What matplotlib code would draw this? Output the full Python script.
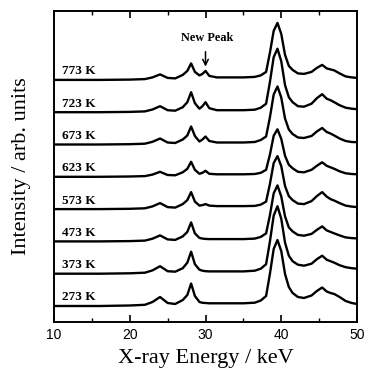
import matplotlib
matplotlib.use("Agg")
import matplotlib.pyplot as plt
from matplotlib.ticker import MultipleLocator

# ---------------- data ----------------
temperatures = ["273 K", "373 K", "473 K", "573 K", "623 K", "673 K", "723 K", "773 K"]

energy_kev = [10, 16, 20, 22, 23, 24, 25, 26, 27, 27.6, 28.1, 28.6, 29.2, 29.6, 30.0,
              30.5, 31.5, 33, 35, 36.5, 37.3, 38.0, 38.5, 39.0, 39.5, 40.0, 40.5, 41.0,
              41.5, 42.2, 43.0, 44.0, 44.7, 45.4, 46.0, 46.5, 47.0, 47.7, 48.5, 49.3, 50]

i_273 = [0, 0, 0.5, 1.2, 4, 9, 3, 2, 6, 11, 22.5, 10, 4, 3.2, 3, 2.7, 2.7, 2.7, 2.7, 3.3,
         5.5, 10, 32, 57, 66, 55, 32, 19, 13, 9, 8, 10.5, 15, 18.5, 14.5, 13, 12, 9, 5, 3, 2]
i_373 = [0, 0, 0.4, 1, 3.3, 7.5, 2.5, 2, 5.5, 11, 22, 9.5, 4, 3, 2.5, 2.3, 2.3, 2.3, 2.3, 3,
         5, 9.5, 32, 58, 67.5, 55, 31, 18, 12.5, 9, 8, 10, 14.5, 18, 14, 12.5, 11, 8.5, 6.5, 5.5, 5]
i_473 = [0, 0, 0.3, 0.8, 2.7, 6, 2, 1.5, 5, 9.5, 19, 8, 3.5, 2.8, 2.5, 2.3, 2.3, 2.3, 2.3, 2.8,
         4.5, 8, 26, 48, 56, 45, 25, 14, 10, 6.5, 5.7, 7.5, 11.5, 15, 11, 9.5, 8, 6, 4, 3.3, 3]
i_573 = [0, 0, 0.3, 0.8, 2.7, 6, 2, 1.5, 5, 9, 17, 7.5, 3.5, 4, 5, 3.5, 3, 3, 3, 3.2,
         4.5, 7.5, 25, 46, 53, 43, 23, 13, 9, 5.5, 5, 8, 13, 17, 12.5, 10, 8.5, 6, 3.5, 2.5, 2]
i_623 = [0, 0, 0.3, 0.7, 2.2, 5, 1.8, 1.5, 4.5, 8, 15, 7, 3, 4, 6, 3, 2.5, 2.5, 2.5, 2.8,
         4, 7, 22, 41, 47.5, 38, 21, 12, 8.5, 5, 4.5, 7, 11, 14.5, 11, 9.5, 8, 5.5, 3.5, 2.8, 2.5]
i_673 = [0, 0, 0.3, 0.8, 2.7, 6, 2, 1.5, 5, 9, 18, 8.5, 3, 5, 8, 3.5, 2, 2, 2, 2.5,
         4.5, 8, 27, 50, 58, 47, 26, 15, 10.5, 7, 6.5, 8.5, 13, 16.5, 12.5, 11, 9, 6, 3.5, 2.5, 2.3]
i_723 = [0, 0, 0.3, 0.8, 2.7, 6, 2, 1.5, 5, 10, 20, 9, 3.5, 6, 10, 4, 2, 2, 2, 2.5,
         4.5, 8.5, 30, 55, 63.5, 51, 27, 15, 10, 6, 5.5, 8.5, 14, 18, 13.5, 12, 10, 7, 4.5, 3.5, 3]
i_773 = [0, 0, 0.3, 0.8, 2.5, 5.5, 2, 1.5, 5, 9, 16.5, 8, 4.5, 6, 9, 4, 2.5, 2.5, 2.5, 3,
         4.5, 8, 27, 49, 57, 46, 25, 14, 10, 6.5, 6, 8, 12, 15, 11.5, 10.5, 9.5, 6.5, 3.5, 2.5, 2]

spectra = [i_273, i_373, i_473, i_573, i_623, i_673, i_723, i_773]

x_ticks = [10, 20, 30, 40, 50]
new_peak_energy = 30.0

# ---------------- layout / style ----------------
BASE = 16.0
STEP = 32.3
W, H, DPI = 368, 372, 100

fig = plt.figure(figsize=(W / DPI, H / DPI), dpi=DPI)
ax = fig.add_axes([54 / W, 1 - 322 / H, (357 - 54) / W, (322 - 11) / H])

serif = ["Liberation Serif", "DejaVu Serif"]

for k, (lab, ys) in enumerate(zip(temperatures, spectra)):
    off = BASE + k * STEP
    ax.plot(energy_kev, [v + off for v in ys], color="black", lw=1.7,
            solid_joinstyle="round", solid_capstyle="round")
    ax.text(11.1, off + 2.5, lab, family=serif, fontsize=9.5, fontweight="bold",
            ha="left", va="bottom")

# New peak annotation
top_curve = spectra[-1]
idx = energy_kev.index(new_peak_energy)
y_np = BASE + 7 * STEP + top_curve[idx]
ax.annotate("", xy=(new_peak_energy, y_np + 1.5), xytext=(new_peak_energy, y_np + 22),
            arrowprops=dict(arrowstyle="->", color="black", lw=1.1))
ax.text(new_peak_energy + 0.2, y_np + 27, "New Peak", family=serif, fontsize=8.8,
        fontweight="bold", ha="center", va="bottom")

ax.set_xlim(10, 50)
ax.set_ylim(0, 311)
ax.set_xticks(x_ticks)
ax.set_xticklabels([str(t) for t in x_ticks], family=["Liberation Sans", "DejaVu Sans"],
                   fontsize=10)
ax.xaxis.set_minor_locator(MultipleLocator(5))
ax.set_yticks([])
ax.tick_params(axis="x", which="major", direction="in", length=5, width=1.2,
               top=True, bottom=True, pad=4)
ax.tick_params(axis="x", which="minor", direction="in", length=3, width=1.0,
               top=True, bottom=True)
for s in ax.spines.values():
    s.set_linewidth(1.4)

fig.text(206 / W, 1 - 359 / H, "X-ray Energy / keV", family=serif, fontsize=16,
         ha="center", va="center")
fig.text(22 / W, 1 - 166 / H, "Intensity / arb. units", family=serif, fontsize=16,
         ha="center", va="center", rotation=90)

fig.savefig("out.png", dpi=DPI)
